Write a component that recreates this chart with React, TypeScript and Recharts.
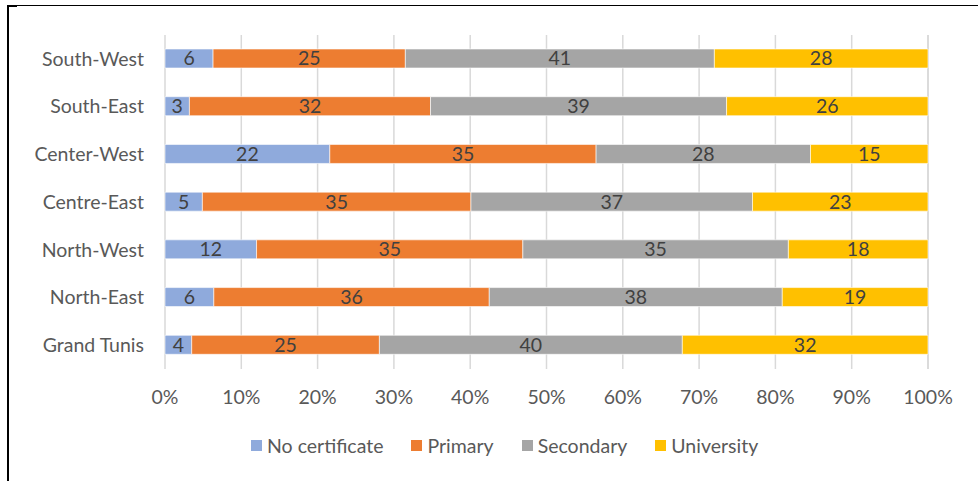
import { BarChart, Bar, XAxis, YAxis, CartesianGrid, Legend, LabelList } from 'recharts';

// Regions, top to bottom as drawn
const regions = ['South-West', 'South-East', 'Center-West', 'Centre-East', 'North-West', 'North-East', 'Grand Tunis'];

// Shares in %
const noCertificate = [6.3, 3.2, 21.6, 4.9, 12.0, 6.4, 3.5];
const primary = [25.2, 31.6, 34.9, 35.2, 34.9, 36.1, 24.6];
const secondary = [40.5, 38.8, 28.1, 36.9, 34.8, 38.4, 39.7];
const university = [28.0, 26.4, 15.4, 23.0, 18.3, 19.1, 32.2];

const xTicks = [0, 10, 20, 30, 40, 50, 60, 70, 80, 90, 100];

const series = [
  { key: 'noCertificate', name: 'No certificate', color: '#8FAADC' },
  { key: 'primary', name: 'Primary', color: '#ED7D31' },
  { key: 'secondary', name: 'Secondary', color: '#A5A5A5' },
  { key: 'university', name: 'University', color: '#FFC000' },
];

const data = regions.map((region, i) => ({
  region,
  noCertificate: noCertificate[i],
  primary: primary[i],
  secondary: secondary[i],
  university: university[i],
}));

const FONT = 'Lato, "Open Sans", sans-serif';
const SIZE = 19.5;

function LegendRow() {
  return (
    <div style={{ display: 'flex', alignItems: 'center', fontFamily: FONT, fontSize: SIZE, color: '#595959' }}>
      {series.map((s, i) => (
        <div key={s.key} style={{ display: 'flex', alignItems: 'center', marginLeft: i === 0 ? 0 : 28 }}>
          <span style={{ width: 11, height: 11, background: s.color, display: 'inline-block', marginRight: 5 }} />
          <span>{s.name}</span>
        </div>
      ))}
    </div>
  );
}

export default function App() {
  return (
    <div style={{ position: 'absolute', left: 0, top: 0, width: 978, height: 481, background: '#fff' }}>
      {/* frame lines of the pasted picture */}
      <div style={{ position: 'absolute', left: 7, top: 5, width: 971, height: 476, borderTop: '1px solid #000', borderLeft: '2px solid #000', boxSizing: 'border-box' }} />
      <div style={{ position: 'absolute', left: 7, top: 5, width: 10, height: 2, background: '#000' }} />

      <BarChart
        width={978}
        height={481}
        data={data}
        layout="vertical"
        margin={{ top: 35, right: 50, left: 0, bottom: 72 }}
        barSize={19}
      >
        <CartesianGrid horizontal={false} stroke="#D9D9D9" strokeWidth={1.5} />
        <XAxis
          type="number"
          domain={[0, 100]}
          ticks={xTicks}
          tickFormatter={(v: number) => `${v}%`}
          axisLine={false}
          tickLine={false}
          tickSize={0}
          tickMargin={21}
          height={40}
          interval={0}
          tick={{ fill: '#595959', fontSize: SIZE, fontFamily: FONT }}
        />
        <YAxis
          type="category"
          dataKey="region"
          width={165}
          axisLine={false}
          tickLine={false}
          tickSize={0}
          tickMargin={21}
          interval={0}
          tick={{ fill: '#595959', fontSize: SIZE, fontFamily: FONT }}
        />
        <Legend
          layout="horizontal"
          verticalAlign="middle"
          align="center"
          wrapperStyle={{ top: 434, left: 251, width: 'auto' }}
          content={() => <LegendRow />}
        />
        {series.map((s) => (
          <Bar
            key={s.key}
            dataKey={s.key}
            name={s.name}
            stackId="a"
            fill={s.color}
            stroke="#ffffff"
            strokeWidth={0.6}
            isAnimationActive={false}
          >
            <LabelList
              dataKey={s.key}
              position="center"
              formatter={(v: any) => Math.round(Number(v))}
              fill="#404040"
              fontSize={SIZE}
              fontFamily={FONT}
            />
          </Bar>
        ))}
      </BarChart>
    </div>
  );
}
